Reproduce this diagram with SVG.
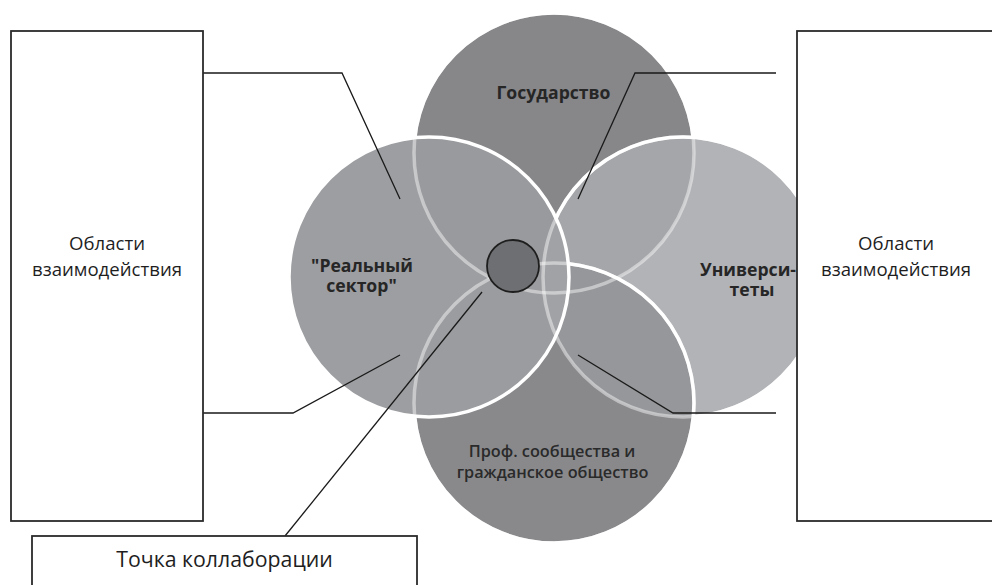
<svg xmlns="http://www.w3.org/2000/svg" width="992" height="585" viewBox="0 0 992 585">
  <style>
    .box { fill: #ffffff; stroke: #2b2b2b; stroke-width: 1.8; }
    .lbl { font-family: "Open Sans", "Noto Sans", "DejaVu Sans", sans-serif; fill: #1e1e1e; text-anchor: middle; }
    .reg { font-size: 18.6px; }
    .bold { font-size: 17.6px; font-weight: bold; fill: #262626; }
    .semi { font-size: 16.3px; font-weight: 600; fill: #2a2a2a; }
    .faint { fill: none; stroke: #ffffff; stroke-opacity: 0.45; stroke-width: 3.5; }
    .bright { fill: none; stroke: #ffffff; stroke-width: 3.5; }
    .conn { fill: none; stroke: #1a1a1a; stroke-width: 1.3; }
  </style>
  <defs>
    <circle id="cTop" cx="554" cy="153" r="140"/>
    <circle id="cRight" cx="683" cy="277" r="140"/>
    <circle id="cBottom" cx="554" cy="403" r="140"/>
    <circle id="cLeft" cx="429" cy="277" r="140"/>
    <clipPath id="clipTop"><use href="#cTop"/></clipPath>
    <clipPath id="clipRight"><use href="#cRight"/></clipPath>
    <clipPath id="clipBottom"><use href="#cBottom"/></clipPath>
    <mask id="mTop" maskUnits="userSpaceOnUse" x="0" y="0" width="992" height="585">
      <rect x="0" y="0" width="992" height="585" fill="#fff"/>
      <use href="#cRight" fill="#000"/>
      <use href="#cBottom" fill="#000"/>
      <use href="#cLeft" fill="#000"/>
    </mask>
    <mask id="mRight" maskUnits="userSpaceOnUse" x="0" y="0" width="992" height="585">
      <rect x="0" y="0" width="992" height="585" fill="#fff"/>
      <use href="#cBottom" fill="#000"/>
      <use href="#cLeft" fill="#000"/>
    </mask>
    <mask id="mBottom" maskUnits="userSpaceOnUse" x="0" y="0" width="992" height="585">
      <rect x="0" y="0" width="992" height="585" fill="#fff"/>
      <use href="#cLeft" fill="#000"/>
    </mask>
  </defs>

  <rect x="0" y="0" width="992" height="585" fill="#ffffff"/>

  <!-- Venn circles -->
  <g id="venn-fills">
    <use href="#cTop" fill="#87878a"/>
    <use href="#cRight" fill="#b2b3b6"/>
    <use href="#cBottom" fill="#89898c"/>
    <use href="#cLeft" fill="#9d9ea1"/>
    <use href="#cRight" fill="#a5a6a9" clip-path="url(#clipTop)"/>
    <use href="#cBottom" fill="#96979a" clip-path="url(#clipRight)"/>
    <use href="#cLeft" fill="#999a9d" clip-path="url(#clipTop)"/>
    <use href="#cLeft" fill="#9b9c9f" clip-path="url(#clipBottom)"/>
    <use href="#cLeft" fill="#a1a2a5" clip-path="url(#clipRight)"/>
  </g>
  <g id="venn-outlines">
    <use href="#cTop" class="faint"/>
    <use href="#cRight" class="faint"/>
    <use href="#cBottom" class="faint"/>
    <use href="#cTop" class="bright" mask="url(#mTop)"/>
    <use href="#cRight" class="bright" mask="url(#mRight)"/>
    <use href="#cBottom" class="bright" mask="url(#mBottom)"/>
    <use href="#cLeft" class="bright"/>
  </g>

  <g id="node-gosudarstvo">
    <text class="lbl bold" x="553.5" y="99">Государство</text>
  </g>
  <g id="node-realny-sektor">
    <text class="lbl bold" x="362" y="272">"Реальный<tspan x="361.5" dy="20">сектор"</tspan></text>
  </g>
  <g id="node-universitety">
    <text class="lbl bold" x="748" y="276">Универси-<tspan x="752" dy="20">теты</tspan></text>
  </g>
  <g id="node-prof">
    <text class="lbl semi" x="552" y="457">Проф. сообщества и<tspan x="552.5" dy="21">гражданское общество</tspan></text>
  </g>

  <!-- Connectors -->
  <g id="connectors">
    <polyline class="conn" points="203,73 342,73 400,199"/>
    <polyline class="conn" points="776,73 635,73 578,199"/>
    <polyline class="conn" points="203,413 293,413 400,355"/>
    <polyline class="conn" points="776,413 673,413 578,355"/>
    <line class="conn" x1="285" y1="536" x2="482" y2="292"/>
  </g>

  <g id="node-collab-point">
    <circle cx="513" cy="266" r="26" fill="#6e6f72" stroke="#1e1e1e" stroke-width="1.8"/>
  </g>

  <g id="node-left-areas">
    <rect class="box" x="11" y="31" width="192" height="490"/>
    <text class="lbl reg" x="107" y="250">Области<tspan x="107" dy="26">взаимодействия</tspan></text>
  </g>
  <g id="node-right-areas">
    <rect class="box" x="797" y="31" width="200" height="490"/>
    <text class="lbl reg" x="896" y="250">Области<tspan x="896" dy="26">взаимодействия</tspan></text>
  </g>
  <g id="node-collab-label">
    <rect class="box" x="32" y="536" width="385" height="60"/>
    <text class="lbl" x="224.5" y="567" font-size="21.3">Точка коллаборации</text>
  </g>
</svg>
